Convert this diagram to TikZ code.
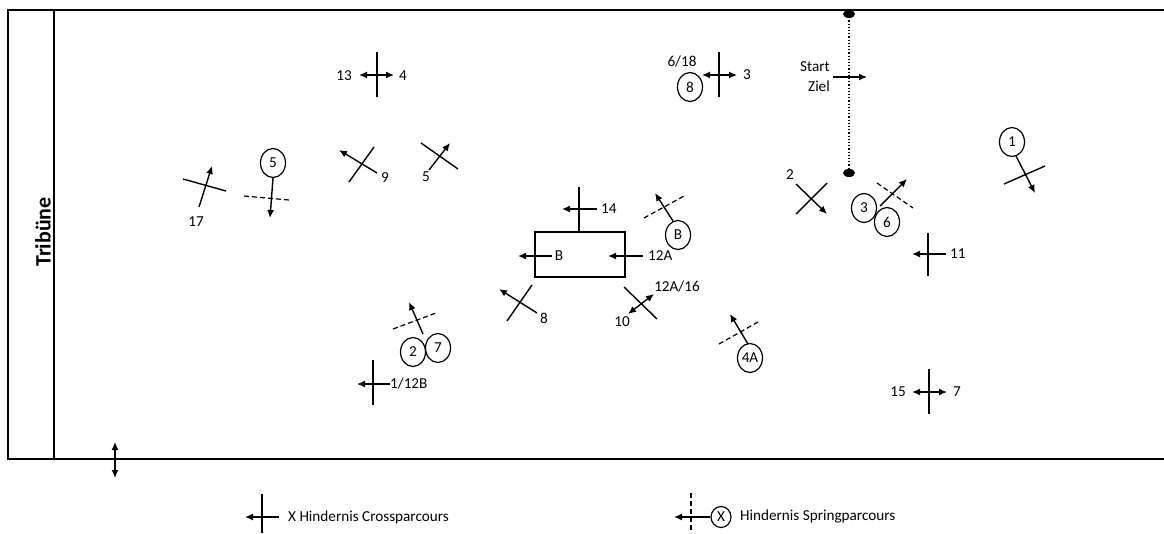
\documentclass[tikz,border=0pt]{standalone}
\usepackage{fontspec}
\setmainfont{Carlito}
\usetikzlibrary{arrows.meta,shapes.geometric}
\begin{document}
\begin{tikzpicture}[x=1pt,y=-1pt,
  lbl/.style={font=\fontsize{15.2}{18}\selectfont, inner sep=0pt},
  bar/.style={line width=1.4pt},
  arr/.style={line width=1.4pt,-{Latex[length=8pt,width=7pt]}},
  darr/.style={line width=1.4pt,{Latex[length=8pt,width=7pt]}-{Latex[length=8pt,width=7pt]}},
  dashline/.style={line width=1.2pt, dash pattern=on 5pt off 3pt},
  num/.style={draw, ellipse, line width=1.2pt, minimum width=25pt, minimum height=29pt, inner sep=0pt, font=\fontsize{15.2}{18}\selectfont},
  frame/.style={line width=2.6pt}
]
\useasboundingbox (0,0) rectangle (1164,533);

% frame
\draw[frame] (1166,10) -- (8,10) -- (8,459) -- (1166,459);
\draw[frame] (54,10) -- (54,459);
\node[rotate=90, inner sep=0pt, font=\bfseries\fontsize{22}{26}\selectfont] (trib) at (43,232) {Tribüne};

% 13 / 4
\draw[bar] (377,52) -- (377,97);
\draw[darr] (359,75) -- (394,75);
\node[lbl] (l13) at (344,76) {13};
\node[lbl] (l4) at (403,76) {4};

% 17
\draw[bar] (183,179) -- (226,191);
\draw[arr] (199,207) -- (212,166);
\node[lbl] (l17) at (196,222) {17};

% circle 5
\node[num] (c5) at (273,163) {5};
\coordinate (e5) at (270,218);
\draw[arr] (c5.south) -- (e5);
\draw[dashline] (244,196) -- (289,200);

% 9
\draw[bar] (349,182) -- (374,147);
\draw[arr] (377,173) -- (339,150);
\node[lbl] (l9) at (385,178) {9};

% 5
\draw[bar] (421,143) -- (458,169);
\draw[arr] (429,170) -- (450,143);
\node[lbl] (l5) at (426,177) {5};

% 6/18, 8, 3
\node[lbl] (l618) at (682,62) {6/18};
\node[num] (c8) at (690,87) {8};
\draw[bar] (719,52) -- (719,97);
\draw[darr] (702,75) -- (737,75);
\node[lbl] (l3) at (747,75) {3};

% Start / Ziel
\draw[dotted, line width=1.2pt] (849,14) -- (849,173);
\fill (849,14) ellipse (6 and 4);
\fill (849,173) ellipse (6 and 4);
\node[lbl, anchor=east] (lstart) at (830,67) {Start};
\node[lbl, anchor=east] (lziel) at (830,86) {Ziel};
\draw[arr] (833,77) -- (867,77);

% 1
\node[num] (c1) at (1012,142) {1};
\coordinate (e1) at (1035,193);
\draw[arr] (c1) ++(4,14) -- (e1);
\draw[bar] (1004,184) -- (1045,166);

% 2
\draw[bar] (796,214) -- (827,183);
\draw[arr] (796,184) -- (827,214);
\node[lbl] (l2) at (790,175) {2};

% 3 / 6
\node[num] (c3) at (864,208) {3};
\node[num] (c6) at (887,222) {6};
\draw[arr] (880,206) -- (907,179);
\draw[dashline] (877,183) -- (913,208);

% 11
\draw[bar] (928,233) -- (928,276);
\draw[arr] (946,254) -- (912,254);
\node[lbl, anchor=west] (l11) at (950,254) {11};

% 14 and box
\draw[bar] (579,187) -- (579,232);
\draw[arr] (597,209) -- (562,209);
\node[lbl, anchor=west] (l14) at (601,209) {14};
\draw[bar] (535,232) rectangle (625,277);
\draw[arr] (552,256) -- (518,256);
\node[lbl] (lB) at (559,256) {B};
\draw[arr] (643,256) -- (608,256);
\node[lbl, anchor=west] (l12A) at (648,256) {12A};

% circle B
\node[num] (cB) at (678,235) {B};
\coordinate (eB) at (655,193);
\draw[arr] (673,221) -- (eB);
\draw[dashline] (644,218) -- (684,196);

% 8
\draw[bar] (507,321) -- (532,285);
\draw[arr] (537,313) -- (499,289);
\node[lbl] (l8) at (544,318) {8};

% 10 / 12A/16
\draw[bar] (624,287) -- (657,319);
\draw[darr] (628,314) -- (654,294);
\node[lbl] (l1216) at (677,287) {12A/16};
\node[lbl] (l10) at (622,322) {10};

% 2 / 7
\node[num] (c2) at (413,352) {2};
\node[num] (c7) at (438,348) {7};
\draw[arr] (423,334) -- (409,302);
\draw[dashline] (393,329) -- (436,313);

% 1/12B
\draw[bar] (373,360) -- (373,405);
\draw[arr] (390,384) -- (357,384);
\node[lbl, anchor=west] (l112B) at (390,384) {1/12B};

% 4A
\node[num] (c4A) at (750,358) {4A};
\draw[arr] (748,344) -- (730,314);
\draw[dashline] (719,344) -- (758,322);

% 15 / 7
\draw[bar] (929,369) -- (929,414);
\draw[darr] (912,392) -- (947,392);
\node[lbl] (l15) at (898,392) {15};
\node[lbl] (l7) at (957,392) {7};

% double arrow at bottom
\draw[darr] (115,442) -- (115,478);

% legend
\draw[bar] (262,494) -- (262,533);
\draw[arr] (279,517) -- (245,517);
\node[lbl, anchor=west] (leg1) at (288,517) {X Hindernis Crossparcours};
\draw[dashline] (691,493) -- (691,533);
\node[draw, ellipse, line width=1.2pt, minimum width=20pt, minimum height=21pt, inner sep=0pt, font=\fontsize{15.2}{18}\selectfont] (cX) at (721,517) {X};
\draw[arr] (cX.west) -- (674,517);
\node[lbl, anchor=west] (leg2) at (740,517) {Hindernis Springparcours};
\end{tikzpicture}
\end{document}
